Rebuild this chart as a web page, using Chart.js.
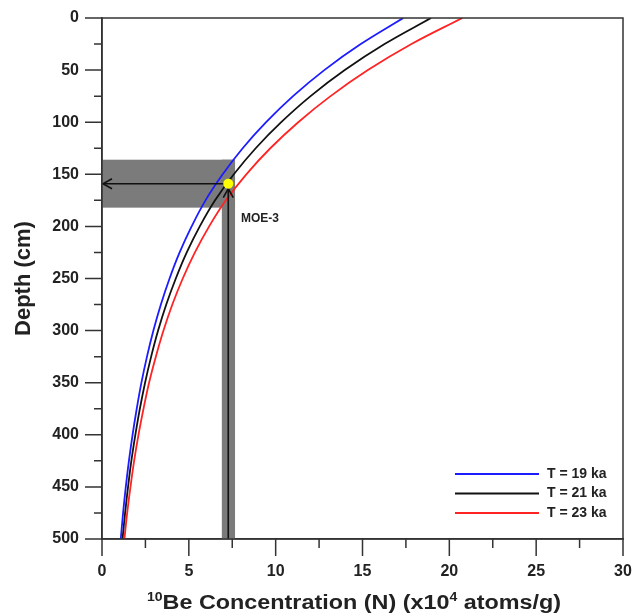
<!DOCTYPE html>
<html>
<head>
<meta charset="utf-8">
<script src="https://cdn.jsdelivr.net/npm/chart.js@4"></script>
<style>
  body { margin: 0; background: #fff; }
  canvas { display: block; }
</style>
</head>
<body>
<canvas id="chart" width="633" height="615"></canvas>
<script>
// depth profile, every 25 cm
const depths = [0, 25, 50, 75, 100, 125, 150, 175, 200, 225, 250, 275, 300, 325, 350, 375, 400, 425, 450, 475, 500];
const n19 = [17.35, 14.9, 12.8, 11.0, 9.45, 8.1, 6.95, 5.96, 5.16, 4.47, 3.89, 3.39, 2.96, 2.59, 2.27, 2.0, 1.76, 1.55, 1.37, 1.215, 1.08];
const n21 = [18.95, 16.27, 13.98, 12.01, 10.32, 8.85, 7.59, 6.51, 5.63, 4.88, 4.25, 3.7, 3.23, 2.83, 2.48, 2.18, 1.92, 1.69, 1.5, 1.33, 1.18];
const n23 = [20.75, 17.82, 15.31, 13.16, 11.3, 9.69, 8.31, 7.13, 6.17, 5.35, 4.65, 4.05, 3.54, 3.1, 2.71, 2.39, 2.1, 1.85, 1.64, 1.45, 1.29];
const seriesLabels = ["T = 19 ka", "T = 21 ka", "T = 23 ka"];
const seriesColors = ["#1c1cff", "#111111", "#ff2424"];

// sample MOE-3 and its uncertainty bands
const sampleName = "MOE-3";
const sampleN = 7.27;
const sampleDepth = 159;
const bandN = [6.9, 7.66];
const bandDepth = [136, 182];

const xMajor = [0, 5, 10, 15, 20, 25, 30];
const xMinor = [2.5, 7.5, 12.5, 17.5, 22.5, 27.5];
const yMajor = [0, 50, 100, 150, 200, 250, 300, 350, 400, 450, 500];
const yMinor = [25, 75, 125, 175, 225, 275, 325, 375, 425, 475];

Chart.defaults.font.family = "'Liberation Sans', Arial, sans-serif";
Chart.defaults.color = "#222";

function toPoints(values) {
  return values.map((v, i) => ({ x: v, y: depths[i] }));
}

function arrowHead(ctx, x, y, dir) {
  ctx.beginPath();
  if (dir === "left") {
    ctx.moveTo(x + 9, y - 5);
    ctx.lineTo(x, y);
    ctx.lineTo(x + 9, y + 5);
  } else {
    ctx.moveTo(x - 5, y + 9);
    ctx.lineTo(x, y);
    ctx.lineTo(x + 5, y + 9);
  }
  ctx.stroke();
}

const decor = {
  id: "decor",
  beforeDatasetsDraw(chart) {
    const { ctx, scales: { x, y } } = chart;
    ctx.save();
    ctx.fillStyle = "#7b7b7b";
    // horizontal depth band
    ctx.fillRect(x.getPixelForValue(0), y.getPixelForValue(bandDepth[0]),
      x.getPixelForValue(bandN[1]) - x.getPixelForValue(0),
      y.getPixelForValue(bandDepth[1]) - y.getPixelForValue(bandDepth[0]));
    // vertical concentration band
    ctx.fillRect(x.getPixelForValue(bandN[0]), y.getPixelForValue(bandDepth[0]),
      x.getPixelForValue(bandN[1]) - x.getPixelForValue(bandN[0]),
      y.getPixelForValue(500) - y.getPixelForValue(bandDepth[0]));
    ctx.restore();
  },
  afterDatasetsDraw(chart) {
    const { ctx, chartArea, scales: { x, y } } = chart;
    const px = x.getPixelForValue(sampleN);
    const py = y.getPixelForValue(sampleDepth);
    ctx.save();
    ctx.strokeStyle = "#111";
    ctx.lineWidth = 1.6;
    ctx.beginPath();
    ctx.moveTo(px, py);
    ctx.lineTo(chartArea.left + 1, py);
    ctx.moveTo(px, chartArea.bottom);
    ctx.lineTo(px, py + 5);
    ctx.stroke();
    arrowHead(ctx, chartArea.left + 1, py, "left");
    arrowHead(ctx, px, py + 5, "up");

    ctx.fillStyle = "#ffff00";
    ctx.beginPath();
    ctx.arc(px, py, 5, 0, Math.PI * 2);
    ctx.fill();

    ctx.fillStyle = "#222";
    ctx.font = "bold 12px 'Liberation Sans', Arial, sans-serif";
    ctx.textBaseline = "middle";
    ctx.fillText(sampleName, x.getPixelForValue(8.0), y.getPixelForValue(193));

    // legend
    ctx.font = "bold 14px 'Liberation Sans', Arial, sans-serif";
    seriesLabels.forEach((lab, i) => {
      const ly = 474 + i * 19.5;
      ctx.strokeStyle = seriesColors[i];
      ctx.lineWidth = 1.8;
      ctx.beginPath();
      ctx.moveTo(455, ly);
      ctx.lineTo(539, ly);
      ctx.stroke();
      ctx.fillText(lab, 547, ly);
    });

    // frame
    ctx.strokeStyle = "#333";
    ctx.lineWidth = 1.5;
    ctx.strokeRect(chartArea.left, chartArea.top, chartArea.right - chartArea.left, chartArea.bottom - chartArea.top);
    ctx.restore();
  },
  afterDraw(chart) {
    const { ctx, chartArea, scales: { x, y } } = chart;
    ctx.save();
    ctx.strokeStyle = "#333";
    ctx.lineWidth = 1.5;
    ctx.beginPath();
    yMajor.forEach(v => { const p = y.getPixelForValue(v); ctx.moveTo(chartArea.left - 17, p); ctx.lineTo(chartArea.left, p); });
    yMinor.forEach(v => { const p = y.getPixelForValue(v); ctx.moveTo(chartArea.left - 8, p); ctx.lineTo(chartArea.left, p); });
    xMajor.forEach(v => { const p = x.getPixelForValue(v); ctx.moveTo(p, chartArea.bottom); ctx.lineTo(p, chartArea.bottom + 17); });
    xMinor.forEach(v => { const p = x.getPixelForValue(v); ctx.moveTo(p, chartArea.bottom); ctx.lineTo(p, chartArea.bottom + 9); });
    ctx.stroke();

    // x axis title with superscripts
    const big = "bold 20px 'Liberation Sans', Arial, sans-serif";
    const small = "bold 12px 'Liberation Sans', Arial, sans-serif";
    const parts = [["10", small, -8], ["Be Concentration (N) (x10", big, 0], ["4", small, -8], [" atoms/g)", big, 0]];
    let w = 0;
    parts.forEach(p => { ctx.font = p[1]; w += ctx.measureText(p[0]).width; });
    const sx = 414 / w;
    ctx.translate(147, 609);
    ctx.scale(sx, 1);
    ctx.fillStyle = "#222";
    ctx.textBaseline = "alphabetic";
    let cx = 0;
    parts.forEach(p => {
      ctx.font = p[1];
      ctx.fillText(p[0], cx, p[2]);
      cx += ctx.measureText(p[0]).width;
    });
    ctx.restore();
  }
};

new Chart(document.querySelector("#chart"), {
  type: "line",
  data: {
    datasets: [n19, n21, n23].map((vals, i) => ({
      label: seriesLabels[i],
      data: toPoints(vals),
      borderColor: seriesColors[i],
      borderWidth: 1.8,
      pointRadius: 0,
      fill: false,
      tension: 0.4
    }))
  },
  options: {
    responsive: false,
    animation: false,
    layout: { padding: { top: 18, right: 10, left: 0, bottom: 0 } },
    plugins: { legend: { display: false }, tooltip: { enabled: false } },
    scales: {
      x: {
        type: "linear",
        position: "bottom",
        min: 0,
        max: 30,
        ticks: {
          stepSize: 2.5,
          autoSkip: false,
          maxRotation: 0,
          padding: 6,
          font: { size: 16, weight: "bold" },
          callback: v => (xMajor.includes(v) ? v : "")
        },
        grid: { drawOnChartArea: false, tickLength: 17, tickColor: "transparent" },
        border: { color: "#333", width: 1.5 },
        afterFit: s => { s.height = 76; s.paddingLeft = 0; s.paddingRight = 0; }
      },
      y: {
        type: "linear",
        position: "left",
        reverse: true,
        min: 0,
        max: 500,
        ticks: {
          stepSize: 25,
          autoSkip: false,
          padding: 6,
          font: { size: 16, weight: "bold" },
          callback: v => (yMajor.includes(v) ? v : "")
        },
        grid: { drawOnChartArea: false, tickLength: 17, tickColor: "transparent" },
        border: { color: "#333", width: 1.5 },
        title: { display: true, text: "Depth (cm)", font: { size: 22, weight: "bold" }, padding: { top: 11, bottom: 0 } },
        afterFit: s => { s.width = 102; s.paddingTop = 0; s.paddingBottom = 0; }
      }
    }
  },
  plugins: [decor]
});
</script>
</body>
</html>
